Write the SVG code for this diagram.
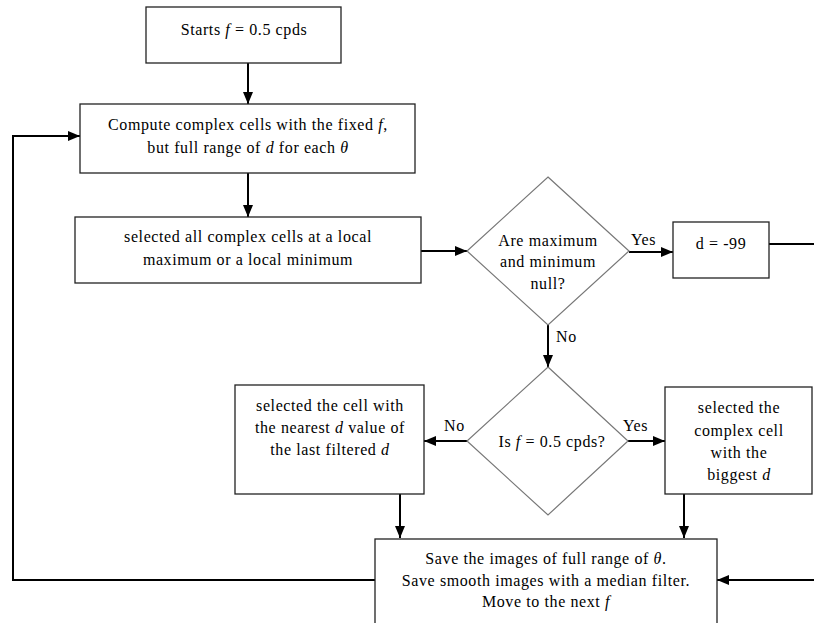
<svg xmlns="http://www.w3.org/2000/svg" width="814" height="623" viewBox="0 0 814 623">
<defs>
<marker id="ah" markerWidth="12" markerHeight="10" refX="12" refY="5" orient="auto" markerUnits="userSpaceOnUse">
<path d="M0,0 L12,5 L0,10 Z" fill="#000"/>
</marker>
<style>
.box{fill:#fff;stroke:#222;stroke-width:1.3}
.dia{fill:#fff;stroke:#777;stroke-width:1.2}
.t{font-family:"Liberation Serif","Times New Roman",serif;font-size:16px;letter-spacing:0.6px;fill:#000;text-anchor:middle}
.l{font-family:"Liberation Serif","Times New Roman",serif;font-size:16px;letter-spacing:0.6px;fill:#000}
.i{font-style:italic}
.c{fill:none;stroke:#000;stroke-width:2}
</style>
</defs>
<rect width="814" height="623" fill="#fff"/>
<g id="connectors">
<line class="c" x1="248" y1="63" x2="248" y2="104" marker-end="url(#ah)"/>
<line class="c" x1="248" y1="173" x2="248" y2="217" marker-end="url(#ah)"/>
<line class="c" x1="421" y1="251" x2="467" y2="251" marker-end="url(#ah)"/>
<line class="c" x1="629" y1="252" x2="673" y2="252" marker-end="url(#ah)"/>
<line class="c" x1="769" y1="244" x2="814" y2="244"/>
<line class="c" x1="548" y1="325" x2="548" y2="367" marker-end="url(#ah)"/>
<line class="c" x1="467" y1="441" x2="424" y2="441" marker-end="url(#ah)"/>
<line class="c" x1="628" y1="441" x2="665" y2="441" marker-end="url(#ah)"/>
<line class="c" x1="400" y1="494" x2="400" y2="538" marker-end="url(#ah)"/>
<line class="c" x1="684" y1="494" x2="684" y2="538" marker-end="url(#ah)"/>
<line class="c" x1="814" y1="580" x2="717" y2="580" marker-end="url(#ah)"/>
<polyline class="c" points="375,580 13,580 13,136 80,136" marker-end="url(#ah)"/>
<text class="l" x="631" y="245">Yes</text>
<text class="l" x="556" y="342">No</text>
<text class="l" x="444" y="431">No</text>
<text class="l" x="623" y="431">Yes</text>
</g>
<g id="start">
<rect class="box" x="146" y="7" width="195" height="56"/>
<text class="t" x="244" y="35">Starts <tspan class="i">f</tspan> = 0.5 cpds</text>
</g>
<g id="compute">
<rect class="box" x="80" y="104" width="335" height="69"/>
<text class="t" x="248" y="130">Compute complex cells with the fixed <tspan class="i">f</tspan>,</text>
<text class="t" x="248" y="153">but full range of <tspan class="i">d</tspan> for each <tspan class="i">θ</tspan></text>
</g>
<g id="select-all">
<rect class="box" x="75" y="217" width="346" height="66"/>
<text class="t" x="248" y="242">selected all complex cells at a local</text>
<text class="t" x="248" y="265">maximum or a local minimum</text>
</g>
<g id="decision-null">
<polygon class="dia" points="548,177 629,251 548,325 467,251"/>
<text class="t" x="548" y="246">Are maximum</text>
<text class="t" x="548" y="267">and minimum</text>
<text class="t" x="548" y="289">null?</text>
</g>
<g id="d-99">
<rect class="box" x="673" y="222" width="96" height="56"/>
<text class="t" x="721" y="249">d = -99</text>
</g>
<g id="decision-f">
<polygon class="dia" points="548,367 628,441 548,515 467,441"/>
<text class="t" x="552" y="447">Is <tspan class="i">f</tspan> = 0.5 cpds?</text>
</g>
<g id="nearest">
<rect class="box" x="235" y="385" width="189" height="109"/>
<text class="t" x="330" y="411">selected the cell with</text>
<text class="t" x="330" y="433">the nearest <tspan class="i">d</tspan> value of</text>
<text class="t" x="330" y="455">the last filtered <tspan class="i">d</tspan></text>
</g>
<g id="biggest">
<rect class="box" x="665" y="387" width="147" height="107"/>
<text class="t" x="739" y="413">selected the</text>
<text class="t" x="739" y="436">complex cell</text>
<text class="t" x="739" y="458">with the</text>
<text class="t" x="739" y="480">biggest <tspan class="i">d</tspan></text>
</g>
<g id="save">
<rect class="box" x="375" y="539" width="342" height="100"/>
<text class="t" x="546" y="564">Save the images of full range of <tspan class="i">θ</tspan>.</text>
<text class="t" x="546" y="586">Save smooth images with a median filter.</text>
<text class="t" x="546" y="607">Move to the next <tspan class="i">f</tspan></text>
</g>
</svg>
